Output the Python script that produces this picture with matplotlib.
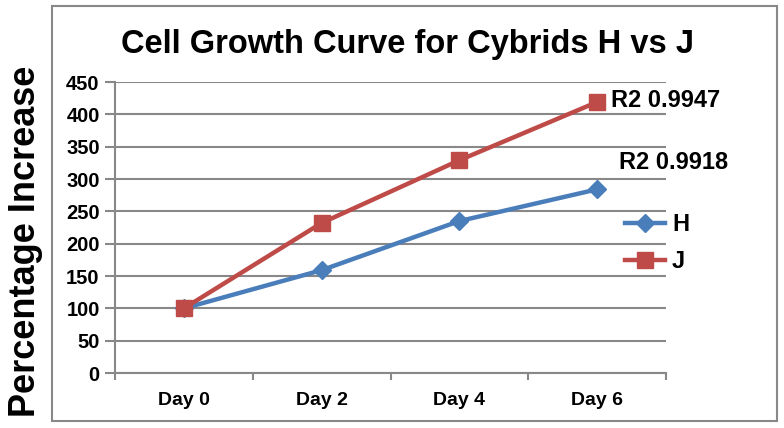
import matplotlib.pyplot as plt
import matplotlib.patches as patches
from matplotlib.lines import Line2D

plt.rcParams['font.family'] = ['Liberation Sans', 'DejaVu Sans']

# data
days = ['Day 0', 'Day 2', 'Day 4', 'Day 6']
h_vals = [100, 159, 235, 284]
j_vals = [100, 232, 329, 419]
r2_h = 'R2 0.9918'
r2_j = 'R2 0.9947'

blue = '#4A7EBB'
red = '#BE4B48'
grey = '#888888'

fig = plt.figure(figsize=(7.84, 4.28), dpi=100)
ax = fig.add_axes([0.1467, 0.1285, 0.7028, 0.6799])

x = list(range(len(days)))
ax.plot(x, h_vals, color=blue, lw=3.2, marker='D', markersize=9, label='H', zorder=3)
ax.plot(x, j_vals, color=red, lw=3.2, marker='s', markersize=11, label='J', zorder=4)

ax.set_xlim(-0.5, len(days) - 0.5)
ax.set_ylim(0, 450)
ax.set_yticks(range(0, 451, 50))
ax.set_xticks(x)
ax.set_xticklabels(days)
ax.set_xticks([i - 0.5 for i in range(len(days) + 1)], minor=True)
ax.tick_params(axis='x', which='major', length=0, pad=14, labelsize=14)
ax.tick_params(axis='x', which='minor', length=5, color=grey, width=1.5)
ax.tick_params(axis='y', length=7, color=grey, width=1.5, pad=4, labelsize=14.5)
for lab in ax.get_xticklabels() + ax.get_yticklabels():
    lab.set_fontweight('bold')

ax.yaxis.grid(True, color=grey, lw=1.5)
ax.set_axisbelow(True)
for s in ['top', 'right']:
    ax.spines[s].set_visible(False)
for s in ['left', 'bottom']:
    ax.spines[s].set_color(grey)
    ax.spines[s].set_linewidth(1.5)

ax.text(x[-1] + 0.1, j_vals[-1] + 3, r2_j, fontsize=17, fontweight='bold', va='center', ha='left')
ax.text(x[-1] + 0.16, h_vals[-1] + 41, r2_h, fontsize=17, fontweight='bold', va='center', ha='left')

fig.text(0.52, 0.895, 'Cell Growth Curve for Cybrids H vs J', fontsize=23.5, fontweight='bold',
         ha='center', va='center')
fig.text(0.032, 0.437, 'Percentage Increase', fontsize=26, fontweight='bold',
         rotation=90, ha='center', va='center')

handles = [Line2D([], [], color=blue, lw=3.2, marker='D', markersize=9),
           Line2D([], [], color=red, lw=3.2, marker='s', markersize=11)]
fig.legend(handles, ['H', 'J'], loc='center left', bbox_to_anchor=(0.77, 0.432),
           frameon=False, prop={'weight': 'bold', 'size': 17}, handlelength=1.7,
           handletextpad=0.3, labelspacing=0.6)

frame = patches.Rectangle((0.0663, 0.0164), 0.9247, 0.9696, transform=fig.transFigure,
                          fill=False, edgecolor=grey, lw=1.5)
fig.add_artist(frame)

fig.savefig('out.png', dpi=100)
